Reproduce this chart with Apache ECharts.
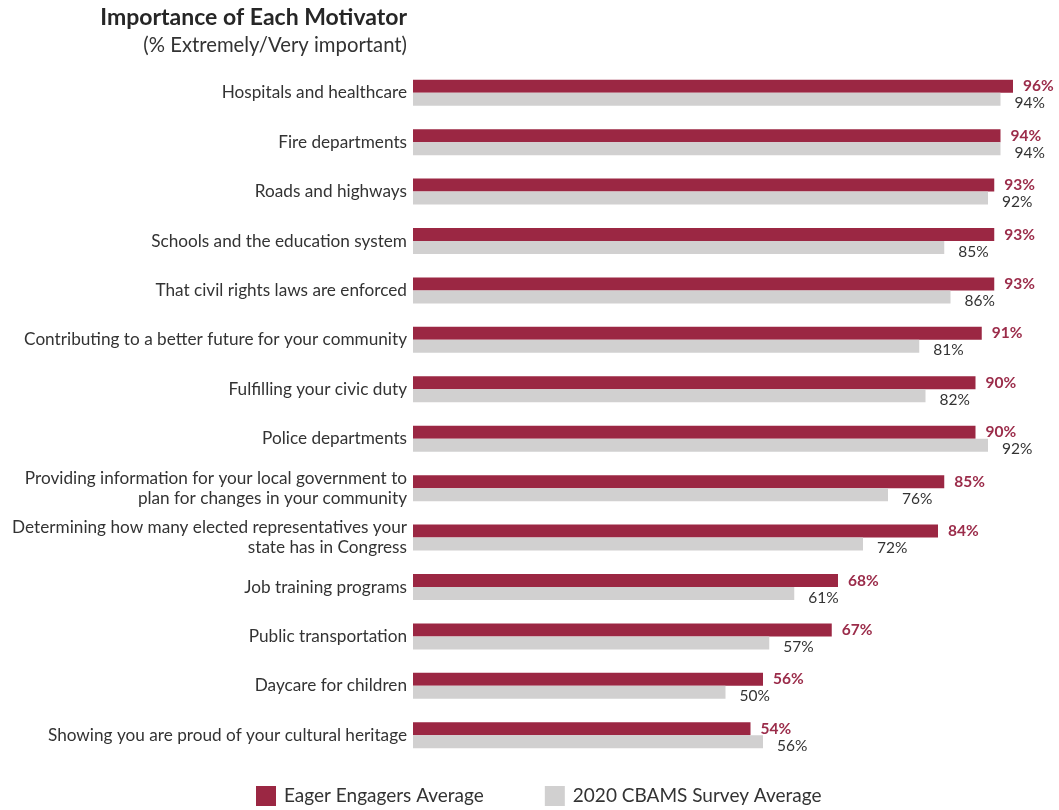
<!DOCTYPE html>
<html>
<head>
<meta charset="utf-8">
<script src="https://cdn.jsdelivr.net/npm/echarts@6/dist/echarts.min.js"></script>
<style>
  html, body { margin: 0; padding: 0; background: #fff; }
  #chart { width: 1059px; height: 810px; }
</style>
</head>
<body>
<div id="chart"></div>
<script>
// Motivators, listed top to bottom
const categories = [
  'Hospitals and healthcare',
  'Fire departments',
  'Roads and highways',
  'Schools and the education system',
  'That civil rights laws are enforced',
  'Contributing to a better future for your community',
  'Fulfilling your civic duty',
  'Police departments',
  'Providing information for your local government to\nplan for changes in your community',
  'Determining how many elected representatives your\nstate has in Congress',
  'Job training programs',
  'Public transportation',
  'Daycare for children',
  'Showing you are proud of your cultural heritage'
];

// % Extremely/Very important
const eagerEngagers = [96, 94, 93, 93, 93, 91, 90, 90, 85, 84, 68, 67, 56, 54];
const cbamsSurvey   = [94, 94, 92, 85, 86, 81, 82, 92, 76, 72, 61, 57, 50, 56];

const seriesNames = ['Eager Engagers Average', '2020 CBAMS Survey Average'];
const titleText = 'Importance of Each Motivator';
const subtitleText = '(% Extremely/Very important)';

const FONT = 'Lato';
const RED = '#9b2743';
const GRAY = '#d1d0d0';

const chart = echarts.init(document.getElementById('chart'), null, { renderer: 'canvas' });

chart.setOption({
  animation: false,
  textStyle: { fontFamily: FONT },
  graphic: [
    {
      type: 'text', x: 407, y: 18,
      style: {
        text: titleText, textAlign: 'right', textVerticalAlign: 'middle',
        font: 'bold 23px ' + FONT, fill: '#262626'
      }
    },
    {
      type: 'text', x: 407, y: 45,
      style: {
        text: subtitleText, textAlign: 'right', textVerticalAlign: 'middle',
        font: '20.3px ' + FONT, fill: '#333'
      }
    }
  ],
  legend: {
    data: seriesNames,
    left: 251, top: 781,
    itemWidth: 20, itemHeight: 20, itemGap: 61,
    icon: 'rect',
    textStyle: { fontFamily: FONT, fontSize: 19, color: '#333', padding: [0, 0, 0, 3] }
  },
  grid: { left: 413, right: 21, top: 68, bottom: 50, containLabel: false },
  xAxis: {
    type: 'value', min: 0, max: 100,
    show: false
  },
  yAxis: {
    type: 'category',
    data: categories,
    inverse: true,
    axisLine: { show: false },
    axisTick: { show: false },
    axisLabel: {
      margin: 6,
      fontFamily: FONT, fontSize: 17.2, color: '#333',
      lineHeight: 20, align: 'right'
    }
  },
  series: [
    {
      name: seriesNames[0],
      type: 'bar',
      data: eagerEngagers,
      barWidth: 13,
      barGap: '0%',
      itemStyle: { color: RED },
      label: {
        show: true, position: 'right', distance: 10,
        formatter: '{c}%',
        fontFamily: FONT, fontSize: 15.5, fontWeight: 'bold', color: '#9b2c4a'
      }
    },
    {
      name: seriesNames[1],
      type: 'bar',
      data: cbamsSurvey,
      barWidth: 13,
      itemStyle: { color: GRAY },
      label: {
        show: true, position: 'right', distance: 14,
        offset: [0, 4],
        formatter: '{c}%',
        fontFamily: FONT, fontSize: 15.5, color: '#333'
      }
    }
  ]
});
</script>
</body>
</html>
